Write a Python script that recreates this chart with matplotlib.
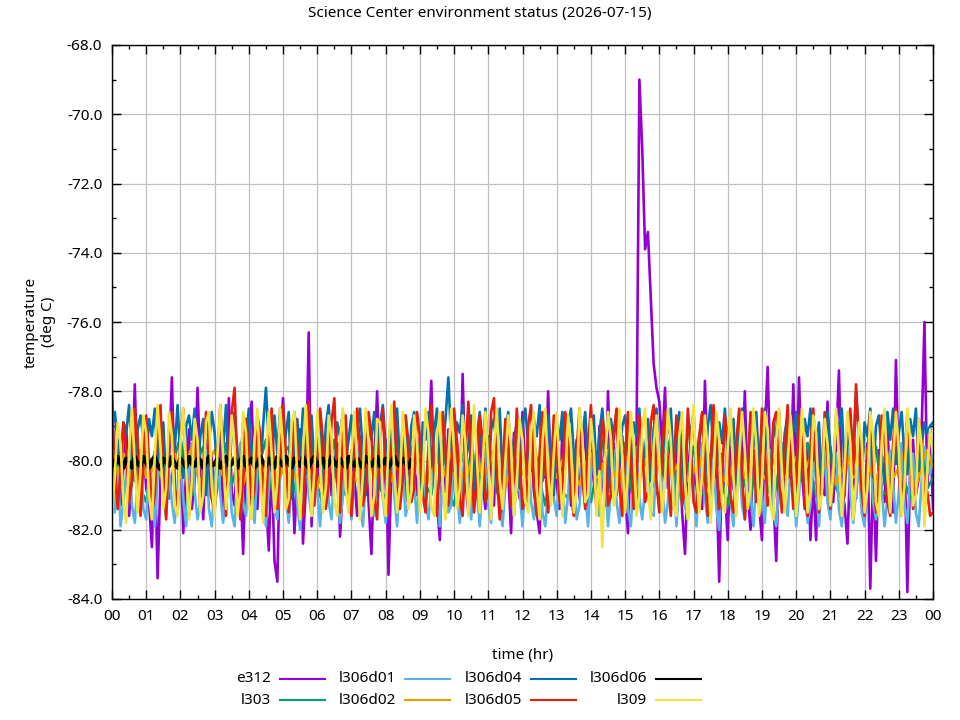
import matplotlib
matplotlib.use("Agg")
import matplotlib.pyplot as plt
from matplotlib.lines import Line2D
from matplotlib.ticker import MultipleLocator, FuncFormatter, FormatStrFormatter

plt.rcParams['font.family'] = ['Noto Sans', 'DejaVu Sans']

# sample times (hours): 5-minute and 10-minute logging steps
hours5 = [i / 12 for i in range(289)]
hours10 = [i / 6 for i in range(145)]

e312 = [
    -78.0, -80.6, -79.4, -81.3, -80.2, -79.0, -81.6, -80.4, -77.8, -80.9, -81.4, -79.6,
    -80.8, -81.2, -82.5, -79.8, -83.4, -80.5, -79.3, -81.1, -80.0, -77.6, -80.7, -81.5,
    -79.5, -82.1, -80.3, -79.1, -81.4, -80.6, -77.9, -80.2, -81.7, -79.4, -80.8, -79.9,
    -81.2, -80.1, -79.3, -81.5, -80.4, -78.2, -80.9, -81.3, -79.7, -80.5, -82.7, -80.0,
    -79.2, -78.3, -80.8, -81.4, -79.6, -80.3, -81.1, -82.6, -80.0, -82.9, -83.5, -79.4,
    -78.2, -80.5, -81.3, -79.7, -82.1, -80.4, -79.1, -82.4, -80.8, -76.3, -81.9, -79.8,
    -80.6, -79.2, -81.4, -80.1, -78.9, -81.0, -80.3, -79.5, -82.2, -80.7, -79.0, -81.3,
    -79.8, -80.5, -81.6, -79.3, -80.9, -78.8, -81.2, -82.7, -80.1, -78.0, -80.6, -81.0,
    -79.4, -83.3, -80.2, -79.0, -81.5, -80.4, -78.9, -80.8, -81.3, -79.6, -80.2, -81.0,
    -79.3, -80.7, -81.4, -79.8, -77.7, -80.5, -81.2, -82.3, -79.6, -80.9, -79.1, -81.3,
    -80.0, -79.4, -81.1, -77.5, -80.6, -81.5, -79.2, -80.3, -81.0, -78.8, -80.7, -81.4,
    -79.5, -80.2, -81.3, -78.9, -80.8, -81.6, -79.7, -80.4, -82.1, -79.2, -80.6, -81.1,
    -78.6, -80.3, -81.2, -79.4, -80.9, -81.5, -82.1, -79.8, -80.5, -78.0, -81.0, -79.6,
    -80.7, -81.4, -79.1, -80.2, -78.7, -81.3, -80.5, -79.4, -81.1, -80.0, -78.9, -81.5,
    -79.7, -80.6, -81.2, -79.0, -80.4, -81.3, -78.0, -80.8, -79.5, -81.0, -80.2, -79.3,
    -80.9, -82.1, -79.6, -80.7, -79.5, -69.0, -71.0, -73.9, -73.4, -75.3, -77.2, -77.9,
    -78.3, -79.6, -77.9, -80.8, -79.4, -81.2, -80.0, -79.1, -81.5, -82.7, -80.3, -79.5,
    -81.0, -80.2, -79.3, -81.4, -77.7, -80.6, -81.1, -79.2, -80.4, -83.5, -79.8, -80.9,
    -82.3, -79.6, -80.8, -81.2, -79.4, -80.3, -78.0, -81.0, -82.0, -79.7, -80.5, -81.3,
    -82.3, -79.2, -77.3, -80.6, -81.1, -82.9, -79.8, -80.4, -81.2, -79.0, -80.7, -77.8,
    -80.9, -77.6, -80.3, -81.4, -79.5, -82.3, -80.6, -82.3, -79.3, -80.8, -81.0, -78.3,
    -80.5, -81.2, -79.6, -77.4, -80.8, -81.3, -82.4, -79.8, -80.4, -81.1, -79.2, -80.7,
    -81.4, -79.5, -83.7, -80.2, -82.9, -79.7, -80.9, -81.2, -79.1, -80.6, -81.5, -77.1,
    -80.4, -81.3, -79.6, -83.8, -80.2, -79.4, -81.0, -80.5, -79.2, -76.0, -80.8, -79.0,
    -81.4,
]

l303 = [
    -79.6, -80.4, -81.0, -80.2, -79.5, -80.8, -81.2, -80.1, -79.4, -80.6, -81.1, -79.9,
    -79.3, -80.5, -81.0, -80.0, -79.6, -80.9, -81.3, -80.2, -79.5, -80.7, -80.1, -79.3,
    -80.6, -81.2, -80.0, -79.4, -80.8, -81.1, -79.8, -79.6, -80.9, -81.0, -80.2, -79.5,
    -80.7, -81.3, -80.3, -79.4, -80.5, -81.0, -79.7, -79.9, -81.2, -80.4, -79.6, -80.8,
    -81.1, -80.0, -79.3, -80.6, -81.2, -80.1, -79.5, -80.7, -81.0, -79.8, -79.4, -80.9,
    -81.3, -80.2, -79.6, -80.8, -81.1, -79.9, -79.3, -80.5, -81.2, -80.0, -79.7, -80.8,
    -81.0, -80.1, -79.4, -80.6, -81.3, -80.2, -79.5, -80.9, -81.1, -79.8, -79.6, -80.7,
    -81.2, -80.3, -79.4, -80.6, -81.0, -79.9, -79.5, -80.8, -81.2, -80.1, -79.6, -80.7,
    -81.1, -80.0, -79.3, -80.5, -81.2, -80.3, -79.6, -80.9, -81.0, -79.8, -79.4, -80.6,
    -81.3, -80.1, -79.5, -80.7, -81.1, -80.0, -79.6, -80.8, -81.2, -80.2, -79.4, -80.6,
    -81.0, -79.9, -79.5, -80.7, -81.3, -80.1, -79.6, -80.8, -81.1, -80.0, -79.3, -80.5,
    -81.2, -80.2, -79.6, -80.9, -81.0, -79.8, -79.5, -80.6, -81.1, -80.3, -79.4, -80.8,
    -80.5,
]

l306d01 = [
    -80.3, -81.5, -80.0, -81.9, -81.2, -80.4, -79.7, -81.3, -81.8, -80.6, -79.9, -81.4,
    -81.7, -80.2, -80.8, -81.9, -80.5, -79.6, -81.0, -81.6, -80.3, -81.2, -81.8, -80.7,
    -79.8, -81.1, -81.9, -80.4, -79.5, -80.9, -81.7, -81.2, -80.1, -79.7, -81.4, -81.9,
    -80.6, -79.6, -81.0, -81.8, -80.8, -80.0, -81.5, -81.9, -80.3, -79.5, -81.2, -81.6,
    -80.5, -80.9, -81.8, -80.2, -79.4, -81.0, -81.9, -80.7, -80.1, -81.4, -81.7, -80.4,
    -79.6, -81.1, -81.8, -80.6, -79.8, -81.3, -82.0, -80.9, -79.7, -81.0, -81.6, -80.3,
    -80.8, -81.9, -80.5, -79.5, -81.2, -81.7, -80.2, -80.7, -81.8, -81.0, -79.6, -80.9,
    -81.7, -80.4, -79.7, -81.3, -81.9, -80.6, -80.0, -81.5, -81.6, -80.2, -79.5, -81.1,
    -81.8, -80.7, -79.8, -81.0, -81.9, -80.5, -80.3, -81.6, -81.2, -79.9, -80.6, -81.8,
    -80.4, -79.5, -81.2, -81.7, -80.8, -79.7, -81.0, -81.9, -80.3, -80.1, -81.5, -81.3,
    -79.7, -80.9, -81.8, -80.6, -79.4, -81.1, -81.7, -80.2, -80.8, -81.9, -80.5, -79.6,
    -81.3, -81.8, -80.1, -79.8, -81.4, -81.9, -80.7, -79.6, -81.0, -81.6, -80.4, -80.9,
    -81.9, -80.6, -79.5, -81.2, -81.7, -80.3, -79.9, -81.5, -81.9, -80.8, -79.7, -81.1,
    -81.6, -80.2, -80.7, -81.8, -81.0, -79.6, -80.5, -81.7, -81.3, -79.8, -80.9, -81.9,
    -80.4, -79.5, -81.3, -81.6, -80.1, -80.6, -81.9, -80.9, -79.7, -81.2, -81.8, -80.3,
    -79.8, -81.4, -81.9, -80.5, -79.6, -81.1, -81.7, -80.8, -80.2, -81.5, -81.6, -79.9,
    -79.5, -80.7, -81.8, -81.2, -79.8, -80.4, -81.9, -80.6, -79.6, -81.3, -81.7, -80.1,
    -80.8, -81.9, -80.4, -79.5, -81.1, -81.8, -80.7, -79.9, -81.4, -82.0, -80.3, -80.6,
    -79.3, -81.2, -81.9, -80.5, -79.8, -81.3, -81.7, -80.2, -80.9, -81.9, -80.6, -79.6,
    -81.0, -81.8, -80.4, -79.7, -81.5, -81.9, -80.8, -79.5, -81.1, -81.6, -80.2, -80.7,
    -81.9, -81.0, -79.6, -80.5, -81.8, -81.3, -79.9, -80.6, -81.9, -80.4, -79.7, -81.2,
    -81.7, -80.3, -79.8, -81.4, -81.9, -80.7, -79.5, -81.0, -81.8, -80.9, -80.1, -81.5,
    -81.9, -80.5, -79.6, -81.2, -81.7, -80.3, -80.8, -81.9, -81.1, -79.7, -80.6, -81.8,
    -80.9, -79.5, -81.3, -81.8, -80.4, -79.8, -81.5, -81.9, -80.6, -79.6, -80.2, -80.4,
    -79.6,
]

l306d02 = [
    -80.0, -80.4, -79.8, -80.6, -80.1, -79.7, -80.5, -80.3, -79.9, -80.7, -80.2, -79.8,
    -80.5, -80.1, -79.6, -80.4, -80.8, -80.0, -79.7, -80.3, -80.6, -79.9, -80.2, -80.7,
    -80.1, -79.6, -80.4, -80.2, -79.8, -80.6, -80.3, -79.9, -80.5, -80.0, -79.7, -80.4,
    -80.8, -80.1, -79.8, -80.5, -80.2, -79.7, -80.4, -80.6, -80.0, -79.8, -80.5, -80.3,
    -79.9, -80.6, -80.1, -79.7, -80.4, -80.2, -79.8, -80.7, -80.3, -79.9, -80.5, -80.0,
    -79.6, -80.3, -80.6, -80.0, -79.8, -80.5, -80.2, -79.7, -80.4, -80.8, -80.1, -79.8,
    -80.4, -80.2, -79.7, -80.6, -80.3, -79.9, -80.5, -80.0, -79.6, -80.4, -80.7, -80.1,
    -79.8, -80.5, -80.2, -79.7, -80.4, -80.6, -80.0, -79.8, -80.5, -80.3, -79.9, -80.6,
    -80.1, -79.7, -80.4, -80.2, -79.8, -80.6, -80.3, -79.9, -80.5, -80.0, -79.7, -80.4,
    -80.7, -80.1, -79.8, -80.5, -80.2, -79.7, -80.4, -80.6, -80.0, -79.8, -80.5, -80.3,
    -79.9, -80.6, -80.1, -79.7, -80.4, -80.2, -79.8, -80.7, -80.3, -79.9, -80.5, -80.0,
    -79.6, -80.3, -80.6, -80.0, -79.8, -80.5, -80.2, -79.7, -80.4, -80.8, -80.1, -79.7,
    -80.2,
]

l306d04 = [
    -79.0, -78.6, -79.5, -80.3, -78.9, -79.2, -78.4, -79.8, -80.6, -79.1, -78.7, -79.4,
    -80.1, -78.8, -79.3, -78.5, -80.0, -79.6, -78.9, -80.8, -79.2, -78.6, -79.7, -78.4,
    -79.9, -80.5, -79.0, -78.7, -79.4, -78.5, -80.2, -79.3, -78.8, -81.0, -79.5, -78.6,
    -79.2, -80.4, -78.9, -79.6, -78.4, -80.7, -79.1, -78.6, -79.8, -80.2, -78.9, -79.4,
    -78.5, -80.0, -79.3, -78.8, -80.6, -79.0, -77.9, -79.5, -80.3, -78.7, -79.8, -78.5,
    -80.1, -79.2, -78.6, -81.1, -79.4, -78.8, -79.9, -78.5, -80.4, -79.1, -78.7, -80.2,
    -79.5, -78.6, -80.8, -79.0, -78.4, -79.7, -80.5, -78.9, -79.3, -78.6, -80.0, -79.4,
    -78.7, -80.3, -79.1, -78.5, -79.8, -81.0, -78.9, -79.4, -78.6, -80.2, -79.0, -78.4,
    -79.6, -80.7, -78.8, -79.3, -78.5, -80.1, -79.5, -78.7, -80.4, -79.0, -78.6, -79.8,
    -80.9, -78.9, -79.4, -78.6, -80.2, -79.2, -78.5, -80.6, -79.7, -78.8, -77.6, -79.5,
    -80.3, -78.9, -79.2, -78.4, -80.0, -79.6, -78.7, -81.1, -79.3, -78.6, -79.9, -78.5,
    -80.4, -79.1, -78.8, -79.7, -78.5, -80.5, -79.2, -78.6, -80.1, -79.4, -78.9, -80.8,
    -79.0, -78.5, -79.6, -80.3, -78.8, -79.3, -78.4, -80.6, -79.5, -78.7, -79.9, -81.0,
    -78.9, -79.4, -78.6, -80.2, -79.1, -78.5, -79.8, -80.7, -78.9, -79.3, -78.6, -80.0,
    -79.5, -78.7, -80.4, -79.2, -78.5, -79.7, -80.9, -78.8, -79.4, -78.6, -80.1, -79.0,
    -78.7, -79.6, -80.5, -78.9, -79.3, -78.5, -80.2, -79.7, -78.8, -80.6, -79.1, -78.5,
    -79.8, -80.4, -78.7, -79.2, -78.5, -80.1, -79.5, -78.6, -79.9, -81.0, -78.8, -79.3,
    -78.6, -80.3, -79.4, -78.7, -80.6, -79.0, -78.4, -79.8, -80.5, -78.9, -79.5, -78.5,
    -80.0, -79.2, -78.8, -80.7, -79.3, -78.5, -79.9, -80.4, -78.7, -79.6, -78.6, -80.2,
    -79.0, -78.5, -79.7, -80.8, -78.9, -79.4, -78.6, -80.3, -79.2, -78.7, -80.5, -79.1,
    -78.6, -79.8, -80.6, -78.8, -79.3, -78.5, -80.0, -79.6, -78.9, -80.9, -79.2, -78.6,
    -79.7, -80.4, -78.8, -79.1, -78.5, -80.2, -79.5, -78.7, -79.9, -78.0, -79.4, -80.6,
    -78.9, -79.3, -78.5, -80.5, -79.0, -78.7, -79.8, -80.7, -78.6, -79.4, -78.5, -80.1,
    -79.2, -78.6, -79.9, -80.4, -78.8, -79.3, -78.5, -80.3, -79.6, -78.9, -79.2, -79.0,
    -78.9,
]

l306d05 = [
    -78.6, -80.2, -81.4, -80.3, -78.9, -79.7, -81.2, -80.6, -78.5, -79.4, -81.6, -80.1,
    -78.7, -80.0, -81.5, -81.0, -79.2, -78.4, -80.5, -81.7, -79.6, -78.6, -80.8, -81.3,
    -79.4, -78.5, -80.1, -81.6, -80.7, -78.9, -79.8, -81.4, -80.2, -78.6, -79.5, -81.1,
    -81.5, -79.9, -78.4, -80.3, -81.6, -79.7, -78.6, -77.9, -80.4, -81.7, -80.5, -78.8,
    -79.6, -81.3, -80.8, -78.7, -79.2, -81.0, -81.6, -79.5, -78.5, -80.6, -81.4, -79.9,
    -78.4, -79.8, -81.5, -80.3, -78.6, -79.5, -81.2, -81.6, -79.8, -78.3, -80.2, -81.3,
    -80.0, -78.5, -79.4, -81.4, -80.7, -78.9, -78.2, -80.6, -81.5, -79.3, -78.7, -80.9,
    -81.6, -80.1, -78.5, -79.6, -81.3, -80.8, -78.6, -79.2, -81.1, -81.7, -79.4, -78.5,
    -80.4, -81.5, -79.7, -78.3, -79.9, -81.4, -80.5, -78.7, -79.5, -81.2, -80.8, -78.6,
    -79.3, -81.0, -81.5, -79.6, -78.4, -80.3, -81.6, -80.1, -78.6, -79.7, -81.3, -80.4,
    -78.5, -79.5, -81.1, -81.6, -79.8, -78.3, -80.0, -81.5, -80.6, -78.7, -79.4, -81.2,
    -80.9, -78.6, -78.2, -80.4, -81.7, -80.2, -78.8, -79.6, -81.3, -80.5, -78.5, -79.9,
    -81.4, -81.1, -79.0, -78.4, -80.7, -81.6, -79.8, -78.6, -80.2, -81.5, -80.3, -78.7,
    -79.5, -81.2, -80.9, -78.6, -79.3, -81.0, -81.6, -79.7, -78.5, -80.5, -81.4, -79.6,
    -78.4, -80.1, -81.5, -80.6, -78.8, -79.4, -81.3, -81.0, -79.2, -78.5, -80.7, -81.6,
    -79.9, -78.6, -79.8, -81.4, -80.5, -78.7, -79.5, -81.2, -80.9, -78.9, -78.4, -80.6,
    -81.5, -79.7, -78.6, -80.3, -81.6, -80.2, -78.7, -79.6, -81.3, -80.8, -78.5, -79.7,
    -81.2, -81.5, -79.3, -78.6, -80.5, -81.6, -80.0, -78.4, -79.8, -81.4, -80.6, -78.7,
    -79.4, -81.1, -81.5, -79.5, -78.5, -80.4, -81.7, -80.3, -78.6, -79.7, -81.2, -80.7,
    -78.5, -79.6, -81.3, -81.0, -78.9, -78.6, -80.6, -81.5, -79.8, -78.4, -80.1, -81.4,
    -80.5, -78.7, -79.3, -81.2, -81.6, -79.6, -78.5, -80.2, -81.5, -80.4, -78.6, -79.9,
    -81.4, -80.6, -78.7, -79.5, -81.3, -81.0, -79.1, -78.5, -80.4, -77.8, -79.4, -80.9,
    -81.6, -79.9, -78.6, -80.1, -81.5, -80.8, -78.7, -79.3, -81.2, -81.6, -79.5, -78.5,
    -80.3, -81.6, -80.2, -78.6, -79.8, -81.4, -80.7, -78.8, -79.5, -81.3, -80.9, -81.6,
    -81.5,
]

# l306d06 only reports until about 08:45
l306d06 = [
    -80.00, -80.15, -79.90, -80.10, -80.20, -79.95, -80.05, -80.20, -79.90, -80.10, -80.15, -79.90,
    -80.05, -80.20, -80.00, -79.90, -80.15, -80.25, -79.95, -80.05, -80.15, -79.90, -80.10, -80.20,
    -79.95, -80.05, -80.20, -79.90, -80.10, -80.15, -79.95, -80.00, -80.20, -80.05, -79.90, -80.15,
    -80.10, -79.95, -80.20, -80.05, -79.90, -80.15, -80.10, -79.95, -80.20, -80.00, -79.90, -80.15,
    -80.05, -79.95, -80.20, -80.10, -79.90, -80.05, -80.15, -79.95, -80.10, -80.20, -79.90, -80.05,
    -80.15, -79.90, -80.10, -80.20, -79.95, -80.05, -80.15, -79.90, -80.10, -80.20, -80.00, -79.90,
    -80.15, -80.05, -79.95, -80.20, -80.10, -79.90, -80.05, -80.15, -79.95, -80.10, -80.20, -79.90,
    -80.05, -80.15, -79.95, -80.10, -80.20, -79.90, -80.05, -80.15, -80.00, -79.90, -80.15, -80.10,
    -79.95, -80.20, -80.05, -79.90, -80.10, -80.15, -79.95, -80.05, -80.20, -80.00,
]

l309 = [
    -81.6, -80.4, -78.9, -79.5, -81.2, -81.8, -79.7, -78.5, -80.1, -81.5, -80.3, -78.7,
    -79.2, -81.0, -81.7, -79.9, -78.4, -79.6, -81.4, -80.8, -78.6, -79.3, -81.3, -81.6,
    -79.5, -78.5, -80.2, -81.7, -80.6, -78.8, -79.4, -81.5, -81.0, -78.9, -78.6, -80.7,
    -81.6, -79.8, -78.4, -79.9, -81.4, -80.5, -78.7, -79.6, -81.6, -80.9, -78.6, -79.2,
    -81.3, -81.7, -79.4, -78.5, -80.4, -81.8, -80.0, -78.6, -79.8, -81.5, -80.6, -78.5,
    -79.6, -81.4, -81.1, -78.9, -78.6, -80.5, -81.7, -79.7, -78.4, -80.2, -81.6, -80.3,
    -78.6, -79.9, -81.5, -80.8, -78.7, -79.3, -81.2, -81.6, -79.4, -78.5, -80.8, -81.5,
    -79.8, -78.6, -80.1, -81.7, -80.4, -78.5, -79.5, -81.6, -81.0, -78.8, -78.9, -81.0,
    -81.6, -79.5, -78.4, -80.3, -81.5, -80.7, -78.6, -79.7, -81.4, -80.9, -78.7, -79.5,
    -81.5, -80.6, -78.5, -79.2, -81.3, -81.6, -79.3, -78.6, -80.6, -81.7, -79.9, -78.5,
    -79.7, -81.4, -80.8, -78.7, -79.5, -81.6, -80.5, -78.4, -79.9, -81.5, -80.2, -78.6,
    -80.1, -81.7, -79.6, -78.5, -80.5, -81.4, -80.0, -78.7, -79.6, -81.6, -80.7, -78.8,
    -79.4, -81.2, -81.5, -79.2, -78.6, -80.8, -81.7, -79.5, -78.5, -80.4, -81.3, -79.8,
    -78.6, -80.2, -81.6, -80.5, -78.7, -79.6, -81.5, -80.9, -78.5, -79.3, -81.2, -81.0,
    -78.8, -79.7, -81.6, -80.3, -82.5, -80.0, -78.6, -79.4, -81.3, -80.8, -78.5, -79.9,
    -81.5, -80.4, -78.6, -79.5, -81.6, -81.0, -79.1, -78.5, -80.7, -81.7, -79.6, -78.7,
    -80.0, -81.5, -80.6, -78.5, -79.4, -81.3, -81.6, -79.3, -78.6, -80.6, -81.7, -79.8,
    -78.4, -80.3, -81.5, -80.4, -78.7, -79.8, -81.8, -80.5, -78.6, -79.4, -81.2, -81.5,
    -79.6, -78.5, -80.5, -81.6, -79.9, -78.6, -79.7, -81.4, -80.8, -78.5, -79.5, -81.6,
    -80.7, -78.6, -79.1, -81.3, -81.7, -79.4, -78.5, -80.3, -81.5, -80.1, -78.7, -79.9,
    -81.6, -80.6, -78.5, -79.6, -81.5, -80.9, -78.7, -79.2, -81.4, -81.0, -78.8, -79.5,
    -81.3, -80.4, -78.5, -79.8, -81.6, -80.2, -78.6, -79.5, -81.7, -80.6, -78.9, -79.4,
    -81.5, -80.8, -78.6, -79.3, -81.2, -81.6, -79.5, -78.5, -80.4, -81.5, -80.0, -78.6,
    -79.7, -81.6, -80.7, -78.5, -79.4, -81.3, -81.0, -78.8, -79.6, -81.9, -80.3, -79.1,
    -79.8,
]

series_names = ["e312", "l303", "l306d01", "l306d02", "l306d04", "l306d05", "l306d06", "l309"]
series_values = [e312, l303, l306d01, l306d02, l306d04, l306d05, l306d06, l309]
series_hours = [hours5, hours10, hours5, hours10, hours5, hours5, hours5, hours5]
colors = ["#9400d3", "#009e73", "#56b4e9", "#e69f00", "#0072b2", "#e51e10", "#000000", "#f0e442"]

title = "Science Center environment status (2026-07-15)"
xlabel = "time (hr)"
ylabel = "temperature\n(deg C)"

W, H = 960, 720
fig = plt.figure(figsize=(W / 100, H / 100), dpi=100)
L, R, T, B = 112, 933, 45, 599
ax = fig.add_axes([L / W, 1 - B / H, (R - L) / W, (B - T) / H])

for name, hrs, vals, col in zip(series_names, series_hours, series_values, colors):
    lw = 3.2 if name == "l306d06" else 1.9
    ax.plot(hrs[:len(vals)], vals, color=col, lw=lw, label=name)

ax.set_xlim(0, 24)
ax.set_ylim(-84, -68)
ax.xaxis.set_major_locator(MultipleLocator(1))
ax.xaxis.set_minor_locator(MultipleLocator(0.5))
ax.yaxis.set_major_locator(MultipleLocator(2))
ax.yaxis.set_minor_locator(MultipleLocator(1))
ax.xaxis.set_major_formatter(FuncFormatter(lambda v, p: f"{int(round(v)) % 24:02d}"))
ax.yaxis.set_major_formatter(FormatStrFormatter("%.1f"))
ax.tick_params(which='both', direction='in', top=True, right=True, width=1.0,
               labelsize=11, colors='black')
ax.tick_params(which='major', length=6.5, pad=7)
ax.tick_params(which='minor', length=3.2)
ax.grid(which='major', color='#c0c0c0', lw=0.9)
for s in ax.spines.values():
    s.set_linewidth(1.0)

fig.text(0.5, 1 - 14 / H, title, ha='center', va='center', fontsize=11)
fig.text((L + R) / 2 / W, 1 - 655 / H, xlabel, ha='center', va='center', fontsize=11)
fig.text(40 / W, 1 - 322 / H, ylabel, ha='center', va='center', rotation=90,
         fontsize=11, multialignment='center')

# gnuplot-style key: right-aligned label followed by line sample
col_text_right = [271, 396, 522, 647]
row_y = [679, 700]
for i, (name, col) in enumerate(zip(series_names, colors)):
    c, r = divmod(i, 2)
    xr = col_text_right[c]
    yy = 1 - row_y[r] / H
    fig.text(xr / W, yy, name, ha='right', va='center', fontsize=11)
    fig.add_artist(Line2D([(xr + 9) / W, (xr + 54) / W], [yy, yy], color=col, lw=1.5))

fig.savefig("out.png", dpi=100)
